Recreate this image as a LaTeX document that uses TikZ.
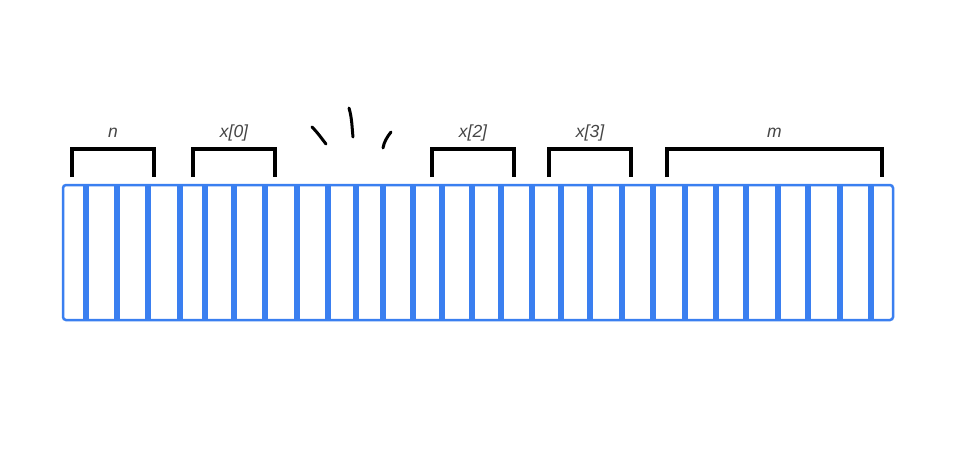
\documentclass[tikz,border=0pt]{standalone}
\usepackage{fontspec}
\setmainfont{Liberation Sans}
\definecolor{barblue}{RGB}{58,127,240}
\definecolor{lblgray}{RGB}{70,70,70}
\begin{document}
\begin{tikzpicture}[x=1pt,y=-1pt,
  stripe/.style={barblue, line width=6.5pt},
  barframe/.style={barblue, line width=2.5pt, rounded corners=3pt},
  bracket/.style={line width=3.5pt},
  lbl/.style={font=\itshape\fontsize{17.5}{20}\selectfont, text=lblgray, anchor=base, inner sep=0pt},
  scribble/.style={line width=3pt, line cap=round}]
  \fill[white] (0,0) rectangle (960,472);
  \useasboundingbox (0,0) rectangle (960,472);
  % the cells
  \foreach \x in {86,117,148,180,205,234,265,297,328,356,383,413,442,472,501,532,561,590,622,653,685,716,746,778,808,840,871}
    \draw[stripe] (\x,186) -- (\x,319);
  \draw[barframe] (63,185) rectangle (893,320);
  % brackets with their labels
  \foreach \l/\r/\name/\txt in {72/154/lbln/n, 193/275/lblx0/{x[0]}, 432/514/lblx2/{x[2]}, 549/631/lblx3/{x[3]}, 667/882/lblm/m} {
    \draw[bracket] (\l,177) -- (\l,149) -- (\r,149) -- (\r,177);
    \node[lbl] (\name) at ({(\l+\r)/2},137) {\txt};
  }
  % hand drawn strokes
  \draw[scribble] (312,127) .. controls (318,133) and (322,139) .. (326,144);
  \draw[scribble] (349,108) .. controls (352,118) and (352,128) .. (353,137);
  \draw[scribble] (391,132) .. controls (387,137) and (384,142) .. (383,148);
\end{tikzpicture}
\end{document}
